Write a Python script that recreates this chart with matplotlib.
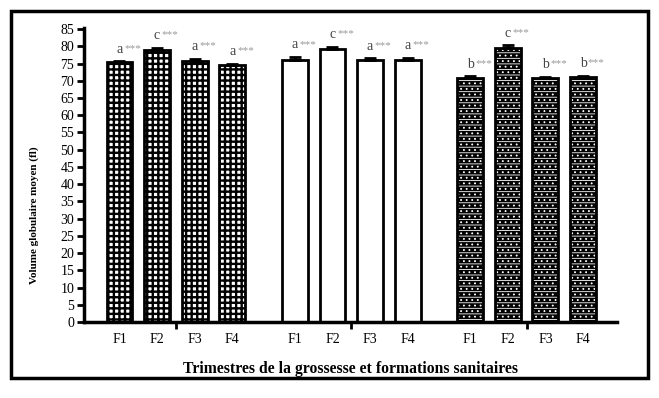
import matplotlib.pyplot as plt
from matplotlib.patches import Rectangle
import numpy as np

plt.rcParams['font.family'] = ['Liberation Serif', 'DejaVu Serif']

##### data #####
formations = ['F1', 'F2', 'F3', 'F4']
trim1 = [75.4, 78.8, 75.7, 74.5]
err1 = [0.3, 0.8, 0.7, 0.5]
trim2 = [76.1, 79.3, 76.1, 75.9]
err2 = [0.8, 0.6, 0.4, 0.8]
trim3 = [70.8, 79.4, 70.8, 71.0]
err3 = [0.5, 0.9, 0.4, 0.5]
letters1 = ['a', 'c', 'a', 'a']
letters2 = ['a', 'c', 'a', 'a']
letters3 = ['b', 'c', 'b', 'b']

groups = [(trim1, err1, letters1), (trim2, err2, letters2), (trim3, err3, letters3)]

fig = plt.figure(figsize=(6.59, 3.98), dpi=100)
ax = fig.add_axes([0.1275, 0.191, 0.8085, 0.7386])

gap = 4.67
w = 0.69
xs_all = []
for g, (vals, errs, lets) in enumerate(groups):
    x = g * gap + np.arange(len(vals))
    xs_all += list(x)
    if g == 0:
        plt.rcParams['hatch.linewidth'] = 1.7
        ax.bar(x, vals, w, facecolor='white', edgecolor='black', hatch='+++', linewidth=0, zorder=2)
    elif g == 2:
        plt.rcParams['hatch.linewidth'] = 0.6
        ax.bar(x, vals, w, facecolor='black', edgecolor='white', hatch='---...', linewidth=0, zorder=2)
    ax.bar(x, vals, w, fill=False, edgecolor='black', linewidth=2, zorder=3)
    ax.errorbar(x, vals, yerr=[np.zeros(len(errs)), errs], fmt='none', ecolor='black',
                elinewidth=2, capsize=4.5, capthick=2, zorder=4)
    for xi, v, e, l in zip(x, vals, errs, lets):
        ax.annotate(l, (xi, v + e), xytext=(0, 4), textcoords='offset points',
                    ha='center', va='bottom', fontsize=10, color='#444444')
        ax.annotate('***', (xi, v + e), xytext=(3.5, 6), textcoords='offset points',
                    ha='left', va='bottom', fontsize=8, color='#999999')

ax.set_xlim(-0.944, 2 * gap + 3 + 0.9)
ax.set_ylim(0, 85.3)
ax.set_yticks(np.arange(0, 86, 5))
ax.set_xticks([1.5 + g * gap for g in range(3)])
ax.set_xticklabels([])
ax.set_xticks(xs_all, minor=True)
ax.set_xticklabels(formations * 3, minor=True)
ax.tick_params(axis='x', which='minor', length=0, pad=8, labelsize=10)
ax.tick_params(axis='x', which='major', length=5, width=2)
ax.tick_params(axis='y', length=5, width=2, labelsize=10, pad=2)

for s in ['top', 'right']:
    ax.spines[s].set_visible(False)
for s in ['left', 'bottom']:
    ax.spines[s].set_linewidth(2.5)

ax.set_xlabel('Trimestres de la grossesse et formations sanitaires',
              fontsize=11.3, fontweight='bold', labelpad=11)
fig.text(0.052, 0.46, 'Volume globulaire moyen (fl)', rotation=90, ha='center', va='center',
         fontsize=8, fontweight='bold')

fig.patches.append(Rectangle((11 / 659, 1 - 378 / 398), 637 / 659, 367 / 398,
                             transform=fig.transFigure, fill=False, edgecolor='black',
                             linewidth=2.5))

fig.savefig('out.png', dpi=100)
